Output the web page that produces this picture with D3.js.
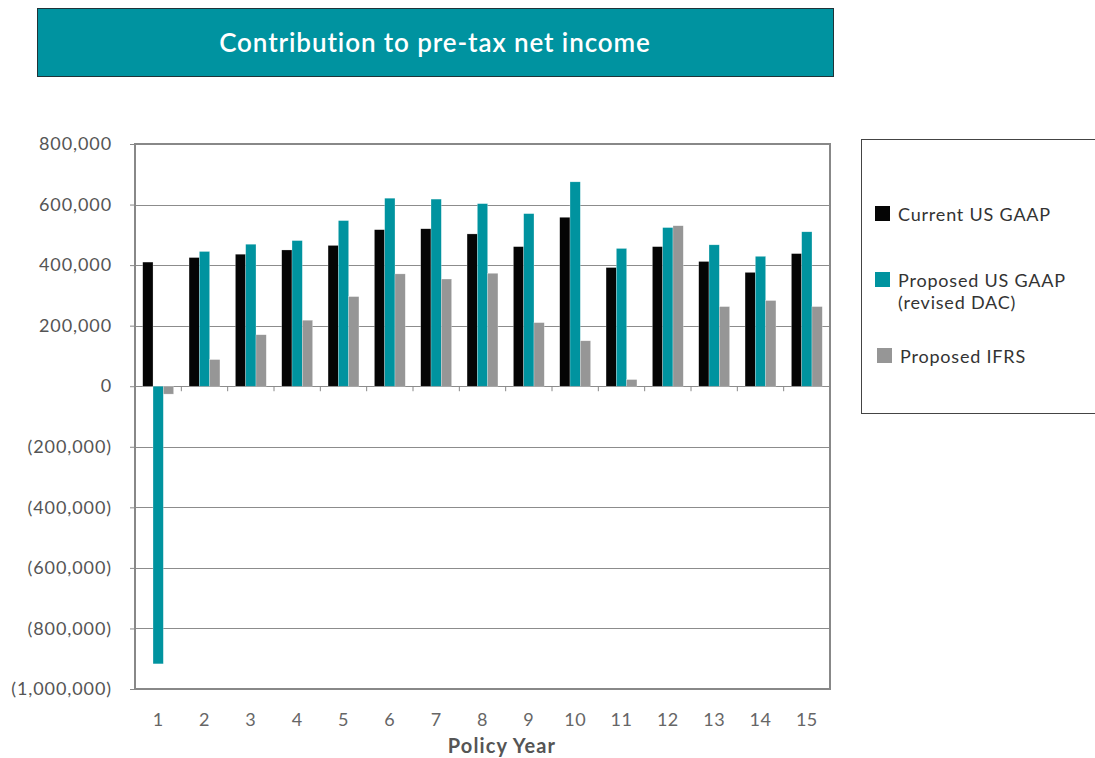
<!DOCTYPE html>
<html>
<head>
<meta charset="utf-8">
<script src="https://cdn.jsdelivr.net/npm/d3@7"></script>
<style>
  body { margin: 0; background: #fff; overflow: hidden; }
  svg { display: block; font-family: Lato, "Open Sans", sans-serif; }
</style>
</head>
<body>
<div id="chart"></div>
<script>
// data
var years = ["1","2","3","4","5","6","7","8","9","10","11","12","13","14","15"];
var seriesNames = ["Current US GAAP", "Proposed US GAAP (revised DAC)", "Proposed IFRS"];
var currentGaap = [410000,425000,436000,450000,465000,517000,520000,503000,461000,558000,392000,461000,412000,376000,438000];
var proposedGaap = [-917000,445000,469000,481000,547000,621000,618000,603000,570000,675000,455000,524000,467000,429000,510000];
var proposedIfrs = [-26000,88000,170000,218000,296000,371000,354000,373000,210000,150000,22000,530000,263000,283000,263000];
var yTicks = [800000,600000,400000,200000,0,-200000,-400000,-600000,-800000,-1000000];

var colors = ["#050505", "#00939f", "#969696"];
var seriesValues = [currentGaap, proposedGaap, proposedIfrs];

var width = 1095, height = 758;
var margin = {left: 135, top: 144, right: 830, bottom: 689};

var svg = d3.select("#chart").append("svg")
  .attr("width", width)
  .attr("height", height);

// title banner
svg.append("rect")
  .attr("x", 37.5).attr("y", 8.5)
  .attr("width", 796).attr("height", 68)
  .style("fill", "#0093a0")
  .style("stroke", "#1f3338")
  .style("stroke-width", 1);
svg.append("text")
  .attr("x", 435).attr("y", 52)
  .attr("text-anchor", "middle")
  .style("fill", "#fff")
  .style("font-size", "26px")
  .style("font-weight", "600")
  .style("letter-spacing", "0.9px")
  .text("Contribution to pre-tax net income");

var x = d3.scaleBand()
  .domain(years)
  .range([margin.left, margin.right]);

var xInner = d3.scaleBand()
  .domain(d3.range(3))
  .range([0, x.bandwidth()])
  .paddingOuter(0.75)
  .paddingInner(0);

var y = d3.scaleLinear()
  .domain([-1000000, 800000])
  .range([margin.bottom, margin.top]);

// gridlines
svg.append("g")
  .selectAll("line")
  .data(yTicks)
  .enter().append("line")
  .attr("x1", margin.left).attr("x2", margin.right)
  .attr("y1", function(d) { return Math.round(y(d)) + 0.5; })
  .attr("y2", function(d) { return Math.round(y(d)) + 0.5; })
  .style("stroke", "#8c8c8c")
  .style("stroke-width", 1.2);

// y axis labels
var fmt = d3.format(",");
var yAxis = d3.axisLeft(y)
  .tickValues(yTicks)
  .tickSize(5)
  .tickPadding(18)
  .tickFormat(function(d) { return d < 0 ? "(" + fmt(-d) + ")" : fmt(d); });

var yg = svg.append("g")
  .attr("transform", "translate(" + margin.left + ",0)")
  .call(yAxis);
yg.select(".domain").remove();
yg.selectAll("line").style("stroke", "#888");
yg.selectAll("text")
  .style("font-size", "18px")
  .style("letter-spacing", "0.9px")
  .style("fill", "#555")
  .style("font-family", "Lato, sans-serif");

// bars
var groups = svg.append("g")
  .selectAll("g")
  .data(years)
  .enter().append("g")
  .attr("transform", function(d) { return "translate(" + x(d) + ",0)"; });

groups.selectAll("rect")
  .data(function(d, i) {
    return seriesValues.map(function(s, k) { return {k: k, v: s[i]}; });
  })
  .enter().append("rect")
  .attr("x", function(d) { return xInner(d.k); })
  .attr("width", xInner.bandwidth())
  .attr("y", function(d) { return y(Math.max(0, d.v)); })
  .attr("height", function(d) { return Math.abs(y(d.v) - y(0)); })
  .style("fill", function(d) { return colors[d.k]; })
  .style("stroke", "#fff")
  .style("stroke-opacity", 0.5)
  .style("stroke-width", 0.5);

// x ticks on the zero line
svg.append("g")
  .selectAll("line")
  .data(years.slice(1))
  .enter().append("line")
  .attr("x1", function(d) { return x(d); })
  .attr("x2", function(d) { return x(d); })
  .attr("y1", y(0)).attr("y2", y(0) + 5)
  .style("stroke", "#888")
  .style("stroke-width", 1);

// x labels
svg.append("g")
  .selectAll("text")
  .data(years)
  .enter().append("text")
  .attr("x", function(d) { return x(d) + x.bandwidth() / 2; })
  .attr("y", 726)
  .attr("text-anchor", "middle")
  .style("font-size", "18px")
  .style("letter-spacing", "0.5px")
  .style("fill", "#666")
  .text(function(d) { return d; });

svg.append("text")
  .attr("x", 502).attr("y", 753)
  .attr("text-anchor", "middle")
  .style("font-size", "20px")
  .style("font-weight", "bold")
  .style("letter-spacing", "1.1px")
  .style("fill", "#555")
  .text("Policy Year");

// plot frame
svg.append("rect")
  .attr("x", margin.left).attr("y", margin.top)
  .attr("width", margin.right - margin.left)
  .attr("height", margin.bottom - margin.top)
  .style("fill", "none")
  .style("stroke", "#888")
  .style("stroke-width", 2);

// legend
svg.append("rect")
  .attr("x", 861.5).attr("y", 139.5)
  .attr("width", 250).attr("height", 274)
  .style("fill", "none")
  .style("stroke", "#444")
  .style("stroke-width", 1);

var legendItems = [
  {k: 0, lines: ["Current US GAAP"], y: 206, x: 875},
  {k: 1, lines: ["Proposed US GAAP", "(revised DAC)"], y: 272, x: 875},
  {k: 2, lines: ["Proposed IFRS"], y: 348, x: 877}
];

var lg = svg.append("g")
  .selectAll("g")
  .data(legendItems)
  .enter().append("g");

lg.append("rect")
  .attr("x", function(d) { return d.x; })
  .attr("y", function(d) { return d.y; })
  .attr("width", 15).attr("height", 15)
  .style("fill", function(d) { return colors[d.k]; });

lg.append("text")
  .attr("x", function(d) { return d.x + 23; })
  .attr("y", function(d) { return d.y + 15; })
  .style("font-size", "18px")
  .style("letter-spacing", "0.8px")
  .style("fill", "#333")
  .selectAll("tspan")
  .data(function(d) { return d.lines; })
  .enter().append("tspan")
  .attr("x", function() { return d3.select(this.parentNode).attr("x"); })
  .attr("dy", function(d, i) { return i === 0 ? 0 : 22; })
  .text(function(d) { return d; });
</script>
</body>
</html>
